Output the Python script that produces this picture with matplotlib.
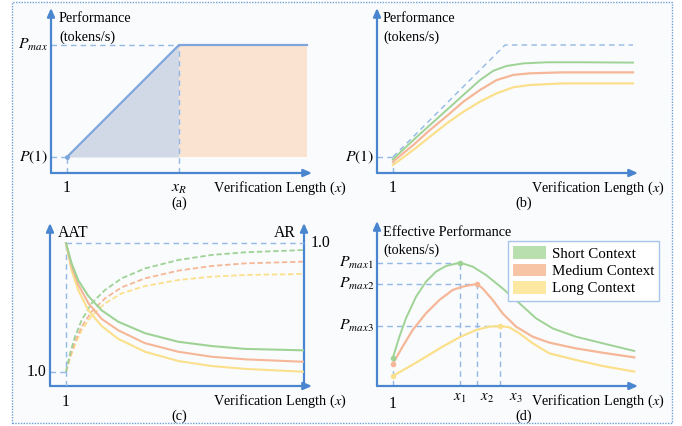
import numpy as np
import matplotlib
matplotlib.use("Agg")
import matplotlib.pyplot as plt
from matplotlib.patches import Rectangle, Patch

plt.rcParams["font.family"] = ["Liberation Serif", "DejaVu Serif"]
plt.rcParams["mathtext.fontset"] = "stix"

W, H = 682, 426

# ---- data (verification length x, performance in arbitrary units) ----
# (a) ideal roofline
A_X = [1, 8, 16]
A_Y = [1, 8, 8]
X_R = 8
P_ONE = 1
P_MAX = 8

# (b) real performance per context length
B_X_SHORT = [1, 2.27, 3.31, 4.36, 5.4, 6.44, 7.27, 8.1, 9.15, 10.6, 12.7, 16]
B_Y_SHORT = [0.86, 2.06, 3.0, 3.94, 4.88, 5.81, 6.39, 6.69, 6.85, 6.92, 6.92, 6.9]
B_X_MED = [1, 2.27, 3.31, 4.36, 5.4, 6.44, 7.48, 8.52, 9.56, 11.6, 16]
B_Y_MED = [0.71, 1.75, 2.69, 3.56, 4.46, 5.19, 5.81, 6.13, 6.23, 6.29, 6.29]
B_X_LONG = [1, 2.27, 3.31, 4.36, 5.4, 6.44, 7.48, 8.52, 9.56, 11.6, 16]
B_Y_LONG = [0.5, 1.44, 2.27, 3.1, 3.83, 4.46, 4.98, 5.36, 5.5, 5.6, 5.6]

# (c) acceptance rate (right axis) and average accepted tokens (left axis)
AR_X = [1, 1.35, 1.77, 2.40, 3.23, 4.27, 5.94, 8.02, 10.1, 12.2, 15.8]
AR_SHORT = [1.0, 0.86, 0.74, 0.63, 0.53, 0.45, 0.37, 0.31, 0.28, 0.26, 0.25]
AR_MED = [1.0, 0.84, 0.71, 0.58, 0.47, 0.39, 0.30, 0.24, 0.205, 0.187, 0.17]
AR_LONG = [1.0, 0.81, 0.67, 0.53, 0.42, 0.33, 0.24, 0.175, 0.14, 0.12, 0.10]
AAT_X = [1, 1.25, 1.56, 1.98, 2.60, 3.44, 4.48, 5.94, 8.02, 10.1, 12.2, 15.8]
AAT_SHORT = [1.0, 2.33, 3.52, 4.71, 5.9, 6.86, 7.69, 8.4, 9.0, 9.36, 9.55, 9.71]
AAT_MED = [1.0, 2.1, 3.17, 4.24, 5.31, 6.26, 7.05, 7.69, 8.24, 8.57, 8.76, 8.88]
AAT_LONG = [1.0, 1.98, 2.93, 4.0, 5.0, 5.9, 6.62, 7.14, 7.57, 7.81, 7.93, 8.0]

# (d) effective performance
D_X_SHORT = [0.98, 1.4, 1.81, 2.44, 3.06, 3.69, 4.31, 5.19, 5.98, 6.81, 7.85, 8.9, 9.94, 10.98, 12.44, 14.1, 16.08]
D_Y_SHORT = [1.73, 3.08, 4.23, 5.58, 6.52, 7.15, 7.5, 7.71, 7.46, 6.94, 6.1, 5.17, 4.23, 3.6, 3.08, 2.67, 2.19]
D_X_MED = [0.98, 1.6, 2.23, 3.06, 3.9, 4.73, 5.35, 6.23, 6.6, 7.23, 7.85, 8.69, 9.73, 10.77, 12.44, 14.1, 16.08]
D_Y_MED = [1.375, 2.46, 3.5, 4.54, 5.375, 6.0, 6.21, 6.375, 6.1, 5.375, 4.54, 3.71, 3.08, 2.71, 2.35, 2.08, 1.79]
D_X_LONG = [0.98, 2.02, 3.06, 4.1, 5.15, 6.19, 7.02, 7.69, 8.27, 8.9, 9.73, 10.77, 12.44, 14.1, 16.08]
D_Y_LONG = [0.625, 1.21, 1.83, 2.46, 3.04, 3.5, 3.71, 3.75, 3.67, 3.29, 2.67, 2.04, 1.625, 1.25, 0.9]
D_PEAK_X = [5.19, 6.23, 7.69]
D_PEAK_Y = [7.71, 6.375, 3.75]
D_PEAK_LABELS = ["$P_{max1}$", "$P_{max2}$", "$P_{max3}$"]
D_XTICK_LABELS = ["$x_1$", "$x_2$", "$x_3$"]
LEGEND_LABELS = ["Short Context", "Medium Context", "Long Context"]

BLUE = "#4a86cf"
DASH = "#93b8e6"
GREEN = "#9fd396"
ORANGE = "#f5b797"
YELLOW = "#fbe08c"
FS = 10.3

fig = plt.figure(figsize=(W / 100, H / 100), dpi=100)
fig.patch.set_facecolor("white")
border = Rectangle((12 / W, 1 - 423 / H), 660 / W, 421 / H, transform=fig.transFigure,
                   facecolor="#fafbfd", edgecolor="#6f9fd8", lw=1.0, ls=(0, (1, 1)), zorder=-10)
fig.add_artist(border)


def panel(left, bottom, right, top, scale=16.0):
    ax = fig.add_axes([left / W, 1 - bottom / H, (right - left) / W, (bottom - top) / H])
    ax.set_xlim(0, (right - left) / scale)
    ax.set_ylim(0, (bottom - top) / scale)
    ax.axis("off")
    return ax


ARROW = dict(arrowstyle="-|>,head_length=0.5,head_width=0.22", color=BLUE, lw=1.6, shrinkA=0, shrinkB=0)


def arrows(ax):
    ax.annotate("", xy=(1, 0), xytext=(0, 0), xycoords="axes fraction", arrowprops=ARROW)
    ax.annotate("", xy=(0, 1), xytext=(0, 0), xycoords="axes fraction", arrowprops=ARROW)


def dashed(ax, xs, ys):
    ax.plot(xs, ys, color=DASH, lw=1.0, ls=(0, (4, 3)), zorder=1)


def ftext(x, y, s, **kw):
    kw.setdefault("fontsize", FS)
    fig.text(x / W, 1 - y / H, s, **kw)


# ---------------- (a) ----------------
ax = panel(51, 173, 312, 8)
arrows(ax)
ax.fill_between([1, X_R], [P_ONE, P_ONE], [P_ONE, P_MAX], color="#d2d9e6", lw=0, zorder=0)
ax.fill_between([X_R, A_X[-1]], P_ONE, P_MAX, color="#fbe3d1", lw=0, zorder=0)
ax.plot(A_X, A_Y, color="#7ea6dc", lw=1.6, zorder=2)
ax.plot([1], [P_ONE], "o", color="#7ea6dc", ms=2.5, zorder=3)
dashed(ax, [0, X_R], [P_MAX, P_MAX])
dashed(ax, [X_R, X_R], [0, P_MAX])
dashed(ax, [0, 1], [P_ONE, P_ONE])
dashed(ax, [1, 1], [0, P_ONE])
ax.text(-0.2, P_MAX, "$P_{max}$", ha="right", va="center", fontsize=FS + 1)
ax.text(-0.2, P_ONE, "$P(1)$", ha="right", va="center", fontsize=FS + 1)
ax.text(1, -0.45, "1", ha="center", va="top", fontsize=FS + 1)
ax.text(X_R, -0.45, "$x_R$", ha="center", va="top", fontsize=FS + 1)
ftext(59, 18, "Performance", va="center")
ftext(59, 37, "(tokens/s)", va="center")
ftext(213, 188, "Verification Length ($x$)", va="center")
ftext(179, 203, "(a)", ha="center", va="center")

# ---------------- (b) ----------------
ax = panel(377, 173, 638, 8)
arrows(ax)
dashed(ax, A_X, A_Y)
dashed(ax, [0, 1], [P_ONE, P_ONE])
dashed(ax, [1, 1], [0, P_ONE])
ax.plot(B_X_SHORT, B_Y_SHORT, color=GREEN, lw=1.4, zorder=3)
ax.plot(B_X_MED, B_Y_MED, color=ORANGE, lw=1.6, zorder=2)
ax.plot(B_X_LONG, B_Y_LONG, color=YELLOW, lw=1.6, zorder=2)
ax.text(-0.2, P_ONE, "$P(1)$", ha="right", va="center", fontsize=FS + 1)
ax.text(1, -0.45, "1", ha="center", va="top", fontsize=FS + 1)
ftext(383, 18, "Performance", va="center")
ftext(383, 37, "(tokens/s)", va="center")
ftext(531, 188, "Verification Length ($x$)", va="center")
ftext(524, 203, "(b)", ha="center", va="center")

# ---------------- (c) ----------------
ax = panel(50, 386, 312, 223)
ax.set_ylim(0, (386 - 223) / 14.0)
arrows(ax)
ax2 = ax.twinx()
ax2.set_ylim(0, (386 - 223) / 142.7)
ax2.axis("off")
x_right = 15.875
ax.annotate("", xy=(x_right, ax.get_ylim()[1]), xytext=(x_right, 0), xycoords="data",
            arrowprops=ARROW, annotation_clip=False)
ax2.plot([1, x_right], [1, 1], color=DASH, lw=1.0, ls=(0, (4, 3)))
ax2.plot([1, 1], [0, 1], color=DASH, lw=1.0, ls=(0, (4, 3)))
dashed(ax, [0, 1], [1, 1])
for ys, c in [(AAT_LONG, YELLOW), (AAT_MED, ORANGE), (AAT_SHORT, GREEN)]:
    ax.plot(AAT_X, ys, color=c, lw=1.3, ls=(0, (3, 1.5)), zorder=2)
for ys, c in [(AR_LONG, YELLOW), (AR_MED, ORANGE), (AR_SHORT, GREEN)]:
    ax2.plot(AR_X, ys, color=c, lw=1.5, zorder=2)
ax.text(-0.2, 1, "1.0", ha="right", va="center", fontsize=FS + 1)
ax2.text(x_right + 0.4, 1.0, "1.0", ha="left", va="center", fontsize=FS + 1)
ax.text(1, -0.6, "1", ha="center", va="top", fontsize=FS + 1)
ftext(58, 233, "AAT", va="center", fontsize=FS + 1)
ftext(296, 233, "AR", ha="right", va="center", fontsize=FS + 1)
ftext(213, 401, "Verification Length ($x$)", va="center")
ftext(179, 416, "(c)", ha="center", va="center")

# ---------------- (d) ----------------
ax = panel(377, 386, 638, 221)
arrows(ax)
for px, py, lab in zip(D_PEAK_X, D_PEAK_Y, D_PEAK_LABELS):
    dashed(ax, [0, px], [py, py])
    dashed(ax, [px, px], [0, py])
    ax.text(-0.2, py, lab, ha="right", va="center", fontsize=FS + 1)
dashed(ax, [1, 1], [0, D_Y_SHORT[0]])
ax.plot(D_X_SHORT, D_Y_SHORT, color=GREEN, lw=1.4, zorder=3)
ax.plot(D_X_MED, D_Y_MED, color=ORANGE, lw=1.6, zorder=2)
ax.plot(D_X_LONG, D_Y_LONG, color=YELLOW, lw=1.6, zorder=2)
for xs, ys, c in [(D_X_SHORT, D_Y_SHORT, GREEN), (D_X_MED, D_Y_MED, ORANGE), (D_X_LONG, D_Y_LONG, YELLOW)]:
    ax.plot([xs[0]], [ys[0]], "o", color=c, ms=3, zorder=4)
for px, py, c in zip(D_PEAK_X, D_PEAK_Y, [GREEN, ORANGE, YELLOW]):
    ax.plot([px], [py], "o", color=c, ms=3, zorder=4)
ax.text(1, -0.6, "1", ha="center", va="top", fontsize=FS + 1)
for px, lab, off in zip(D_PEAK_X, D_XTICK_LABELS, [0.0, 0.65, 1.0]):
    ax.text(px + off, -0.35, lab, ha="center", va="top", fontsize=FS + 0.5)
ftext(383, 233, "Effective Performance", va="center")
ftext(383, 250, "(tokens/s)", va="center")
ftext(531, 401, "Verification Length ($x$)", va="center")
ftext(524, 416, "(d)", ha="center", va="center")
handles = [Patch(facecolor=c, edgecolor="none") for c in ["#b9dfae", "#f8c4a6", "#fde8a2"]]
ax.legend(handles, LEGEND_LABELS, loc="upper left", bbox_to_anchor=(508 / W, 1 - 241 / H),
          bbox_transform=fig.transFigure, fontsize=FS + 0.5, frameon=True, fancybox=False,
          edgecolor="#a8c4ea", facecolor="white", framealpha=1, handlelength=2.2, handleheight=0.9,
          borderpad=0.35, labelspacing=0.2, handletextpad=0.35, borderaxespad=0)

fig.savefig("out.png", dpi=100)
